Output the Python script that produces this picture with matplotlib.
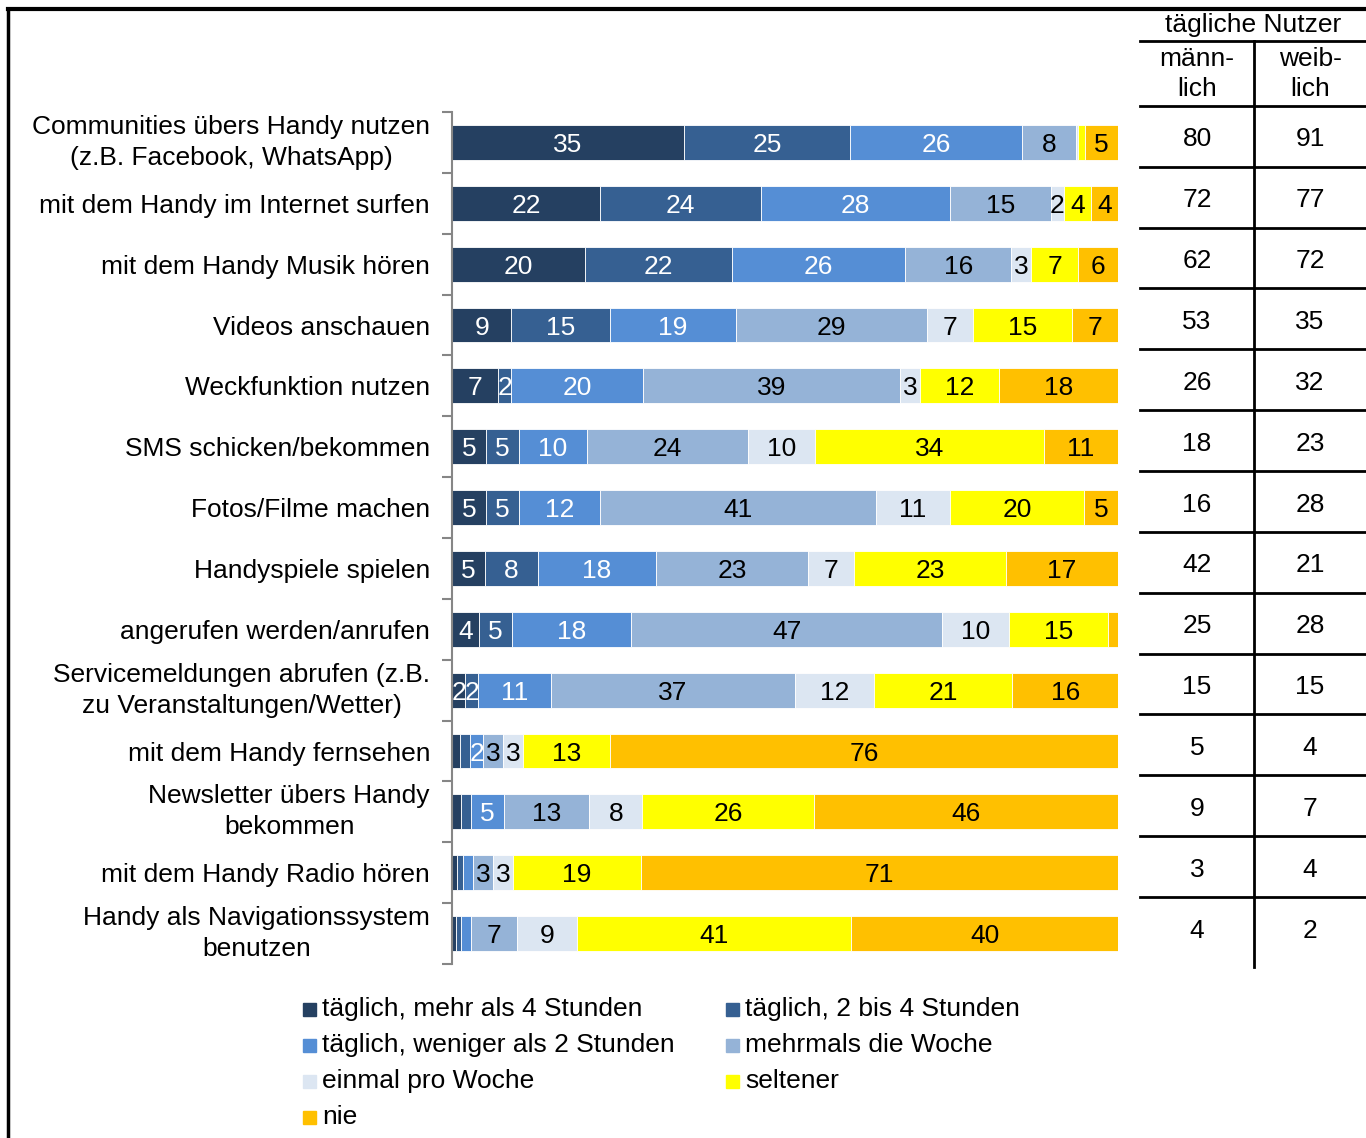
import numpy as np
import matplotlib.pyplot as plt
from matplotlib.transforms import blended_transform_factory
from matplotlib.patches import Rectangle
from matplotlib.lines import Line2D

plt.rcParams['font.family'] = ['Liberation Sans', 'DejaVu Sans']

kategorien = [
    "Communities übers Handy nutzen\n(z.B. Facebook, WhatsApp)",
    "mit dem Handy im Internet surfen",
    "mit dem Handy Musik hören",
    "Videos anschauen",
    "Weckfunktion nutzen",
    "SMS schicken/bekommen",
    "Fotos/Filme machen",
    "Handyspiele spielen",
    "angerufen werden/anrufen",
    "Servicemeldungen abrufen (z.B.\nzu Veranstaltungen/Wetter)",
    "mit dem Handy fernsehen",
    "Newsletter übers Handy\nbekommen",
    "mit dem Handy Radio hören",
    "Handy als Navigationssystem\nbenutzen",
]

serien = [
    "täglich, mehr als 4 Stunden",
    "täglich, 2 bis 4 Stunden",
    "täglich, weniger als 2 Stunden",
    "mehrmals die Woche",
    "einmal pro Woche",
    "seltener",
    "nie",
]

mehr_4h   = [35, 22, 20, 9, 7, 5, 5, 5, 4, 2, 1.2, 1.3, 0.7, 0.6]
h2_bis_4  = [25, 24, 22, 15, 2, 5, 5, 8, 5, 2, 1.5, 1.5, 0.9, 0.7]
unter_2h  = [26, 28, 26, 19, 20, 10, 12, 18, 18, 11, 2, 5, 1.5, 1.5]
mehrmals  = [8, 15, 16, 29, 39, 24, 41, 23, 47, 37, 3, 13, 3, 7]
einmal    = [0.4, 2, 3, 7, 3, 10, 11, 7, 10, 12, 3, 8, 3, 9]
seltener  = [1, 4, 7, 15, 12, 34, 20, 23, 15, 21, 13, 26, 19, 41]
nie       = [5, 4, 6, 7, 18, 11, 5, 17, 1.5, 16, 76, 46, 71, 40]

maennlich = [80, 72, 62, 53, 26, 18, 16, 42, 25, 15, 5, 9, 3, 4]
weiblich  = [91, 77, 72, 35, 32, 23, 28, 21, 28, 15, 4, 7, 4, 2]

farben = ["#254061", "#366092", "#558ED5", "#95B3D7", "#DCE6F2", "#FFFF00", "#FFC000"]
textfarben = ["white", "white", "white", "black", "black", "black", "black"]

W, H = 1366, 1138
fs = 19


def fx(x):
    return x / W


def fy(y):
    return 1 - y / H


fig = plt.figure(figsize=(13.66, 11.38), dpi=100)
ax = fig.add_axes([fx(452), fy(964), fx(1118) - fx(452), fy(112) - fy(964)])

alle = np.array([mehr_4h, h2_bis_4, unter_2h, mehrmals, einmal, seltener, nie], dtype=float)
summe = alle.sum(axis=0)  # 100%-gestapelt wie in Excel

y = np.arange(len(kategorien))
links = np.zeros(len(kategorien))
for werte, farbe, tf in zip(alle, farben, textfarben):
    breite = werte / summe * 100
    ax.barh(y, breite, left=links, height=0.575, color=farbe, edgecolor="white", linewidth=0.6)
    for yi, l, b, v in zip(y, links, breite, werte):
        if v >= 1.95:
            ax.text(l + b / 2, yi, f"{v:.0f}", ha="center", va="center_baseline",
                    color=tf, fontsize=fs)
    links += breite

ax.set_xlim(0, 100)
ax.set_ylim(len(kategorien) - 0.5, -0.5)
ax.set_xticks([])
for s in ["top", "right", "bottom"]:
    ax.spines[s].set_visible(False)
ax.spines["left"].set_color("#868686")
ax.spines["left"].set_linewidth(1.5)
ax.set_yticks([])
ax.set_yticks(np.arange(-0.5, len(kategorien), 1), minor=True)
ax.tick_params(axis="y", which="minor", length=7, width=1.5, color="#868686")

blend = blended_transform_factory(fig.transFigure, ax.transData)

# Kategorien links
for i, kat in enumerate(kategorien):
    va = "center" if "\n" in kat else "center_baseline"
    ax.text(fx(430), i, kat, transform=blend, ha="right", va=va, ma="center",
            fontsize=fs, linespacing=1.38)

# Tabelle rechts
for i, (m, w) in enumerate(zip(maennlich, weiblich)):
    ax.text(fx(1197), i - 0.05, str(m), transform=blend, ha="center", va="center", fontsize=fs)
    ax.text(fx(1310), i - 0.05, str(w), transform=blend, ha="center", va="center", fontsize=fs)
    ax.plot([fx(1140), 1], [i - 0.6] * 2, transform=blend, color="black", lw=2, clip_on=False)

fig.add_artist(Line2D([fx(1254)] * 2, [fy(41), fy(967)], color="black", lw=2))
fig.add_artist(Line2D([fx(1140), 1], [fy(41)] * 2, color="black", lw=2))
fig.text(fx(1253), fy(25), "tägliche Nutzer", ha="center", va="center", fontsize=fs)
fig.text(fx(1197), fy(74), "männ-\nlich", ha="center", va="center", fontsize=fs, linespacing=1.28)
fig.text(fx(1310), fy(74), "weib-\nlich", ha="center", va="center", fontsize=fs, linespacing=1.28)

# Rahmen
fig.add_artist(Line2D([fx(8), 1], [fy(9)] * 2, color="black", lw=3))
fig.add_artist(Line2D([fx(8)] * 2, [fy(9), 0], color="black", lw=2.5))

# Legende
for i, (name, farbe) in enumerate(zip(serien, farben)):
    x0 = [303, 726][i % 2]
    yc = 1009 + 36 * (i // 2)
    fig.add_artist(Rectangle((fx(x0), fy(yc + 6.5)), 13 / W, 13 / H, transform=fig.transFigure,
                             color=farbe))
    fig.text(fx(x0 + 19), fy(yc), name, va="center", fontsize=fs)

fig.savefig("out.png", dpi=100)
plt.close()
